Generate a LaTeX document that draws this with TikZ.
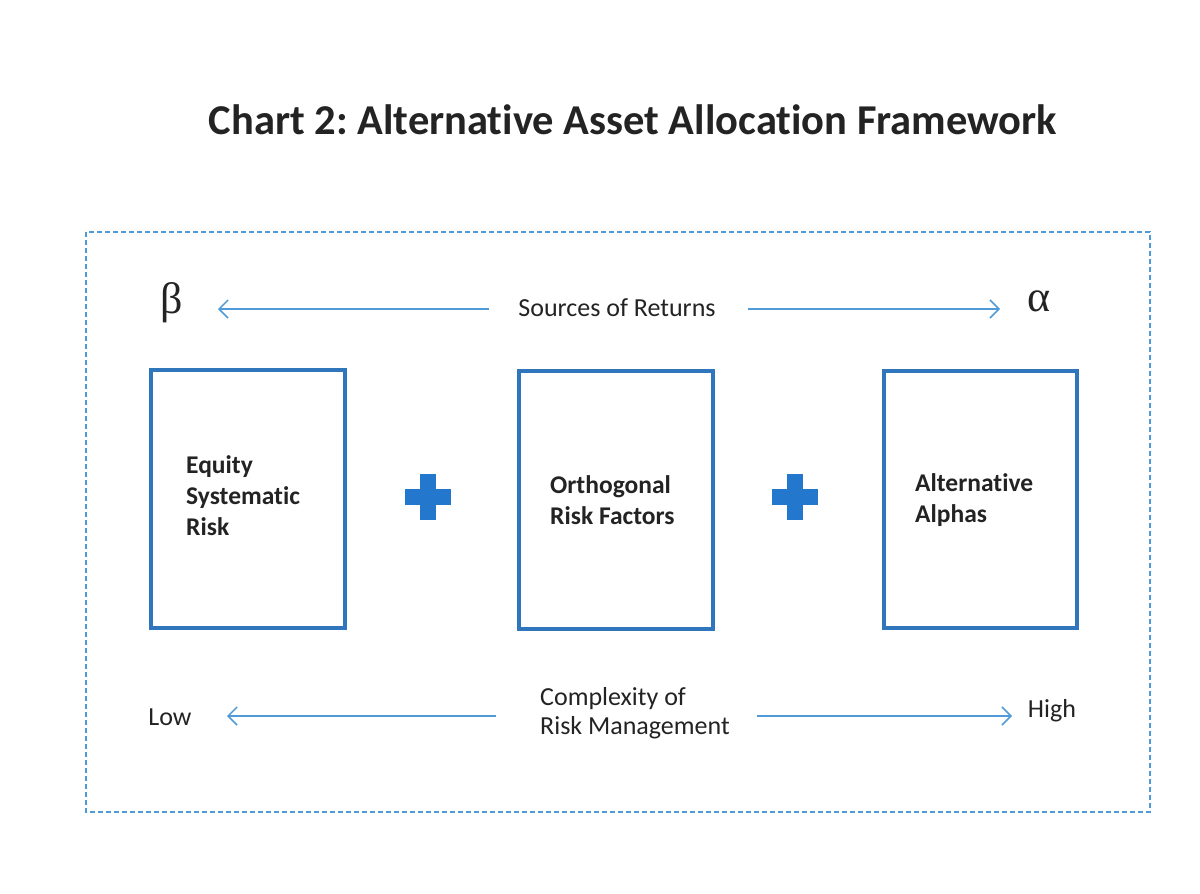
\documentclass[tikz,border=0pt]{standalone}
\usepackage{fontspec}
\setmainfont[Ligatures={NoCommon}]{Carlito}
\newfontfamily\greekfont{Liberation Serif}
\usetikzlibrary{arrows.meta}
\definecolor{boxblue}{RGB}{48,118,188}
\definecolor{lineblue}{RGB}{80,155,215}
\definecolor{plusblue}{RGB}{35,120,205}
\definecolor{txt}{RGB}{35,35,35}
\frenchspacing
\begin{document}
\begin{tikzpicture}[x=1pt,y=-1pt,
  catbox/.style={draw=boxblue,line width=3.5pt,fill=none},
  conn/.style={draw=lineblue,line width=1.5pt,-{Straight Barb[length=9pt,width=18pt,line width=1.5pt]}},
  lbl/.style={text=txt,font=\fontsize{26}{29}\selectfont,inner sep=0pt},
  boxtxt/.style={text=txt,font=\bfseries\fontsize{25.5}{31}\selectfont,align=left,inner sep=0pt,anchor=west},
  greek/.style={text=txt,font=\greekfont\fontsize{44}{46}\selectfont,inner sep=0pt}
]
\useasboundingbox (0,0) rectangle (1200,894);
\fill[white] (0,0) rectangle (1200,894);
% title
\node[text=txt,font=\bfseries\fontsize{42.5}{46}\selectfont,inner sep=0pt] (title) at (633,120) {Chart 2: Alternative Asset Allocation Framework};
% dashed frame
\draw[lineblue,line width=1.5pt,dash pattern=on 5pt off 3pt] (86,232) rectangle (1150,812);
% top row
\node[greek] (beta) at (172,303) {β};
\node[greek] (alpha) at (1039,301) {α};
\node[lbl] (src) at (617,308) {Sources of Returns};
\coordinate (srcL) at (489,309);
\coordinate (srcR) at (748,309);
\coordinate (betaE) at (218,309);
\coordinate (alphaE) at (1000,309);
\draw[conn] (srcL) -- (betaE);
\draw[conn] (srcR) -- (alphaE);
% boxes
\draw[catbox] (151,370) rectangle (345,628);
\draw[catbox] (519,371) rectangle (713,629);
\draw[catbox] (884,371) rectangle (1077,628);
\node[boxtxt] (eq) at (186,496) {Equity\\Systematic\\Risk};
\node[boxtxt] (orth) at (550,500) {Orthogonal\\Risk Factors};
\node[boxtxt] (alt) at (915,500) {Alternative\\Alphas};
% plus signs
\foreach \cx/\nm in {428/p1,795/p2}{
  \fill[plusblue] (\cx-23,497-8) rectangle (\cx+23,497+8);
  \fill[plusblue] (\cx-8,497-23) rectangle (\cx+8,497+23);
}
% bottom row
\node[lbl] (low) at (170,717) {Low};
\node[lbl] (high) at (1052,711) {High};
\node[lbl,align=left,anchor=west] (cx) at (540,713) {Complexity of\\Risk Management};
\coordinate (cxL) at (496,716);
\coordinate (cxR) at (757,716);
\coordinate (lowE) at (227,716);
\coordinate (highE) at (1012,716);
\draw[conn] (cxL) -- (lowE);
\draw[conn] (cxR) -- (highE);
\end{tikzpicture}
\end{document}
